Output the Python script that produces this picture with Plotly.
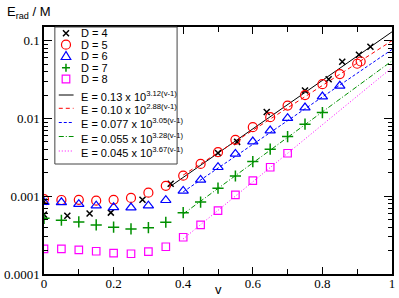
import plotly.graph_objects as go

# ---------------- data ----------------
v4 = [0, 0, 0.067, 0.131, 0.192, 0.283, 0.364, 0.5, 0.555, 0.64, 0.75, 0.818, 0.857, 0.905, 0.938]
E4 = [0.00085, 0.00058, 0.00056, 0.0006, 0.000615, 0.0009, 0.00145, 0.0036, 0.0050, 0.0121,
      0.0229, 0.032, 0.0535, 0.066, 0.0834]

v5 = [0, 0.05, 0.1, 0.15, 0.2, 0.25, 0.3, 0.35, 0.4, 0.45, 0.5, 0.55, 0.6, 0.65, 0.7, 0.75,
      0.8, 0.85, 0.9, 0.91]
E5 = [0.00092, 0.000895, 0.0009, 0.000877, 0.0009, 0.00095, 0.00111, 0.00136, 0.00184, 0.0026,
      0.00368, 0.00531, 0.00773, 0.0104, 0.01466, 0.0200, 0.0276, 0.0372, 0.0505, 0.054]

v6 = [0, 0.05, 0.1, 0.15, 0.2, 0.25, 0.3, 0.35, 0.4, 0.45, 0.5, 0.55, 0.6, 0.65, 0.7, 0.75,
      0.8, 0.85]
E6 = [0.00084, 0.000835, 0.00079, 0.000757, 0.00072, 0.000715, 0.000757, 0.000888, 0.00117,
      0.00162, 0.00236, 0.0035, 0.00505, 0.00698, 0.0101, 0.0138, 0.0191, 0.0263]

v7 = [0, 0.05, 0.1, 0.15, 0.2, 0.25, 0.3, 0.35, 0.4, 0.45, 0.5, 0.55, 0.6, 0.65, 0.7, 0.75, 0.8]
E7 = [0.00052, 0.000491, 0.000467, 0.000427, 0.0004, 0.00038, 0.000394, 0.000463, 0.000615,
      0.00084, 0.00127, 0.00182, 0.00279, 0.00403, 0.00585, 0.00845, 0.0119]

v8 = [0, 0.05, 0.1, 0.15, 0.2, 0.25, 0.3, 0.35, 0.4, 0.45, 0.5, 0.55, 0.6, 0.65, 0.7]
E8 = [0.00021, 0.00021, 0.000204, 0.000196, 0.000186, 0.000182, 0.000194, 0.000224, 0.000297,
      0.000428, 0.000653, 0.00104, 0.00159, 0.00236, 0.00357]

# fit lines  E = a * 10^(b (v-1))
fit_a = [0.13, 0.10, 0.077, 0.055, 0.045]
fit_b = [3.12, 2.88, 3.05, 3.28, 3.67]
fit_a_txt = ["0.13", "0.10", "0.077", "0.055", "0.045"]
fit_start = [0.36, 0.40, 0.40, 0.40, 0.40]

x_tickvals = [0, 0.2, 0.4, 0.6, 0.8, 1]
x_ticktext = ["0", "0.2", "0.4", "0.6", "0.8", "1"]
y_tickvals = [0.0001, 0.001, 0.01, 0.1]
y_ticktext = ["0.0001", "0.001", "0.01", "0.1"]

# ---------------- styles ----------------
GREEN = "#009000"
series = [
    (v4, E4, "D = 4", "x-thin-open", 6, "black", 1.5),
    (v5, E5, "D = 5", "circle-open", 9, "red", 1.2),
    (v6, E6, "D = 6", "triangle-up-open", 9, "blue", 1.2),
    (v7, E7, "D = 7", "cross-thin-open", 8, GREEN, 1.5),
    (v8, E8, "D = 8", "square-open", 7.5, "magenta", 1.2),
]
fit_colors = ["black", "red", "blue", GREEN, "magenta"]
fit_dash = ["solid", "4px,3px", "3px,2px", "5px,2px,1px,2px", "1px,2px"]

fig = go.Figure()

for i in range(5):
    a, b, s = fit_a[i], fit_b[i], fit_start[i]
    xs = [s, 1.0]
    ys = [a * 10 ** (b * (x - 1)) for x in xs]
    fig.add_trace(go.Scatter(x=xs, y=ys, mode="lines",
                             line=dict(color=fit_colors[i], width=1, dash=fit_dash[i]),
                             showlegend=False, hoverinfo="skip"))

for (vx, ey, name, sym, sz, col, lw) in series:
    fig.add_trace(go.Scatter(x=vx, y=ey, mode="markers", name=name,
                             marker=dict(symbol=sym, size=sz, color=col,
                                         line=dict(color=col, width=lw)),
                             showlegend=False))

# ---------------- layout geometry ----------------
W, H = 399, 298
L, R, T, B = 42, 4, 27, 24
PW, PH = W - L - R, H - T - B


def px(xp):
    return (xp - L) / PW


def py(yp):
    return (H - B - yp) / PH


minor_y = [k * 10 ** e for e in range(-4, 0) for k in range(2, 10) if k * 10 ** e < 0.15]

axis_font = dict(family="Liberation Serif, Times New Roman, serif", size=13, color="black")

fig.update_layout(
    width=W, height=H,
    margin=dict(l=L, r=R, t=T, b=B, pad=0),
    paper_bgcolor="white", plot_bgcolor="white",
    showlegend=False,
    xaxis=dict(range=[0, 1], showgrid=False, zeroline=False,
               showline=True, linecolor="black", linewidth=1.5, mirror="ticks",
               ticks="inside", ticklen=7, tickwidth=1.2, tickcolor="black",
               tickvals=x_tickvals, ticktext=x_ticktext, tickfont=axis_font,
               ticklabelstandoff=-3,
               minor=dict(dtick=0.1, tick0=0, ticks="inside", ticklen=5,
                          tickwidth=1.2, tickcolor="black", showgrid=False)),
    yaxis=dict(type="log", range=[-4, -0.824], showgrid=False, zeroline=False,
               showline=True, linecolor="black", linewidth=1.5, mirror="ticks",
               ticks="inside", ticklen=8, tickwidth=1.2, tickcolor="black",
               tickvals=y_tickvals, ticktext=y_ticktext, tickfont=axis_font,
               minor=dict(tickvals=minor_y, ticks="inside", ticklen=4,
                          tickwidth=1, tickcolor="black", showgrid=False)),
    font=dict(family="Liberation Sans, Arial, sans-serif", color="black"),
)

shapes = []
annotations = []

# legend box
shapes.append(dict(type="rect", xref="paper", yref="paper",
                   x0=px(53), x1=px(177), y0=py(164), y1=py(27),
                   line=dict(color="#444444", width=1), fillcolor="white", layer="above"))

sym_x = px(64.3)
marker_y = [33.3, 44.7, 56, 67.7, 79]
line_y = [95, 108.3, 122.5, 136.5, 151]
text_x = px(78)
lab_font = dict(family="Liberation Sans, Arial, sans-serif", size=11, color="black")


def pix_shape(kind, cx, cy, col, lw, **kw):
    d = dict(type=kind, xref="paper", yref="paper", xsizemode="pixel", ysizemode="pixel",
             xanchor=cx, yanchor=cy, line=dict(color=col, width=lw), layer="above")
    d.update(kw)
    return d


# D=4 x
shapes.append(pix_shape("path", sym_x, py(marker_y[0]), "black", 1.5,
                        path="M-3,-3 L3,3 M-3,3 L3,-3"))
# D=5 circle
shapes.append(pix_shape("circle", sym_x, py(marker_y[1]), "red", 1.2,
                        x0=-4.5, x1=4.5, y0=-4.5, y1=4.5))
# D=6 triangle
shapes.append(pix_shape("path", sym_x, py(marker_y[2]), "blue", 1.2,
                        path="M0,4.5 L-4.8,-3.5 L4.8,-3.5 Z"))
# D=7 plus
shapes.append(pix_shape("path", sym_x, py(marker_y[3]), GREEN, 1.5,
                        path="M-4,0 L4,0 M0,-4 L0,4"))
# D=8 square
shapes.append(pix_shape("rect", sym_x, py(marker_y[4]), "magenta", 1.2,
                        x0=-3.8, x1=3.8, y0=-3.8, y1=3.8))

for i, (vx, ey, name, sym, sz, col, lw) in enumerate(series):
    annotations.append(dict(xref="paper", yref="paper", x=text_x, y=py(marker_y[i]),
                            xanchor="left", yanchor="middle", text=name,
                            showarrow=False, font=lab_font))

for i in range(5):
    shapes.append(dict(type="line", xref="paper", yref="paper",
                       x0=px(57), x1=px(72), y0=py(line_y[i]), y1=py(line_y[i]),
                       line=dict(color=fit_colors[i], width=1, dash=fit_dash[i]),
                       layer="above"))
    annotations.append(dict(xref="paper", yref="paper", x=text_x, y=py(line_y[i] + 1),
                            xanchor="left", yanchor="middle",
                            text=f"E = {fit_a_txt[i]} x 10<sup>{fit_b[i]:.2f}(v-1)</sup>",
                            showarrow=False, font=lab_font))

# axis titles
annotations.append(dict(xref="paper", yref="paper", x=px(2), y=py(13),
                        xanchor="left", yanchor="middle",
                        text="E<sub>rad</sub> / M", showarrow=False,
                        font=dict(family="Liberation Sans, Arial, sans-serif", size=13,
                                  color="black")))
annotations.append(dict(xref="paper", yref="paper", x=0.5, y=py(299),
                        xanchor="center", yanchor="bottom", text="v", showarrow=False,
                        font=dict(family="Liberation Sans, Arial, sans-serif", size=13,
                                  color="black")))

fig.update_layout(shapes=shapes, annotations=annotations)

fig.write_html("out.html", config={"displayModeBar": False},
               post_script="document.body.style.margin='0';document.body.style.overflow='hidden';")
